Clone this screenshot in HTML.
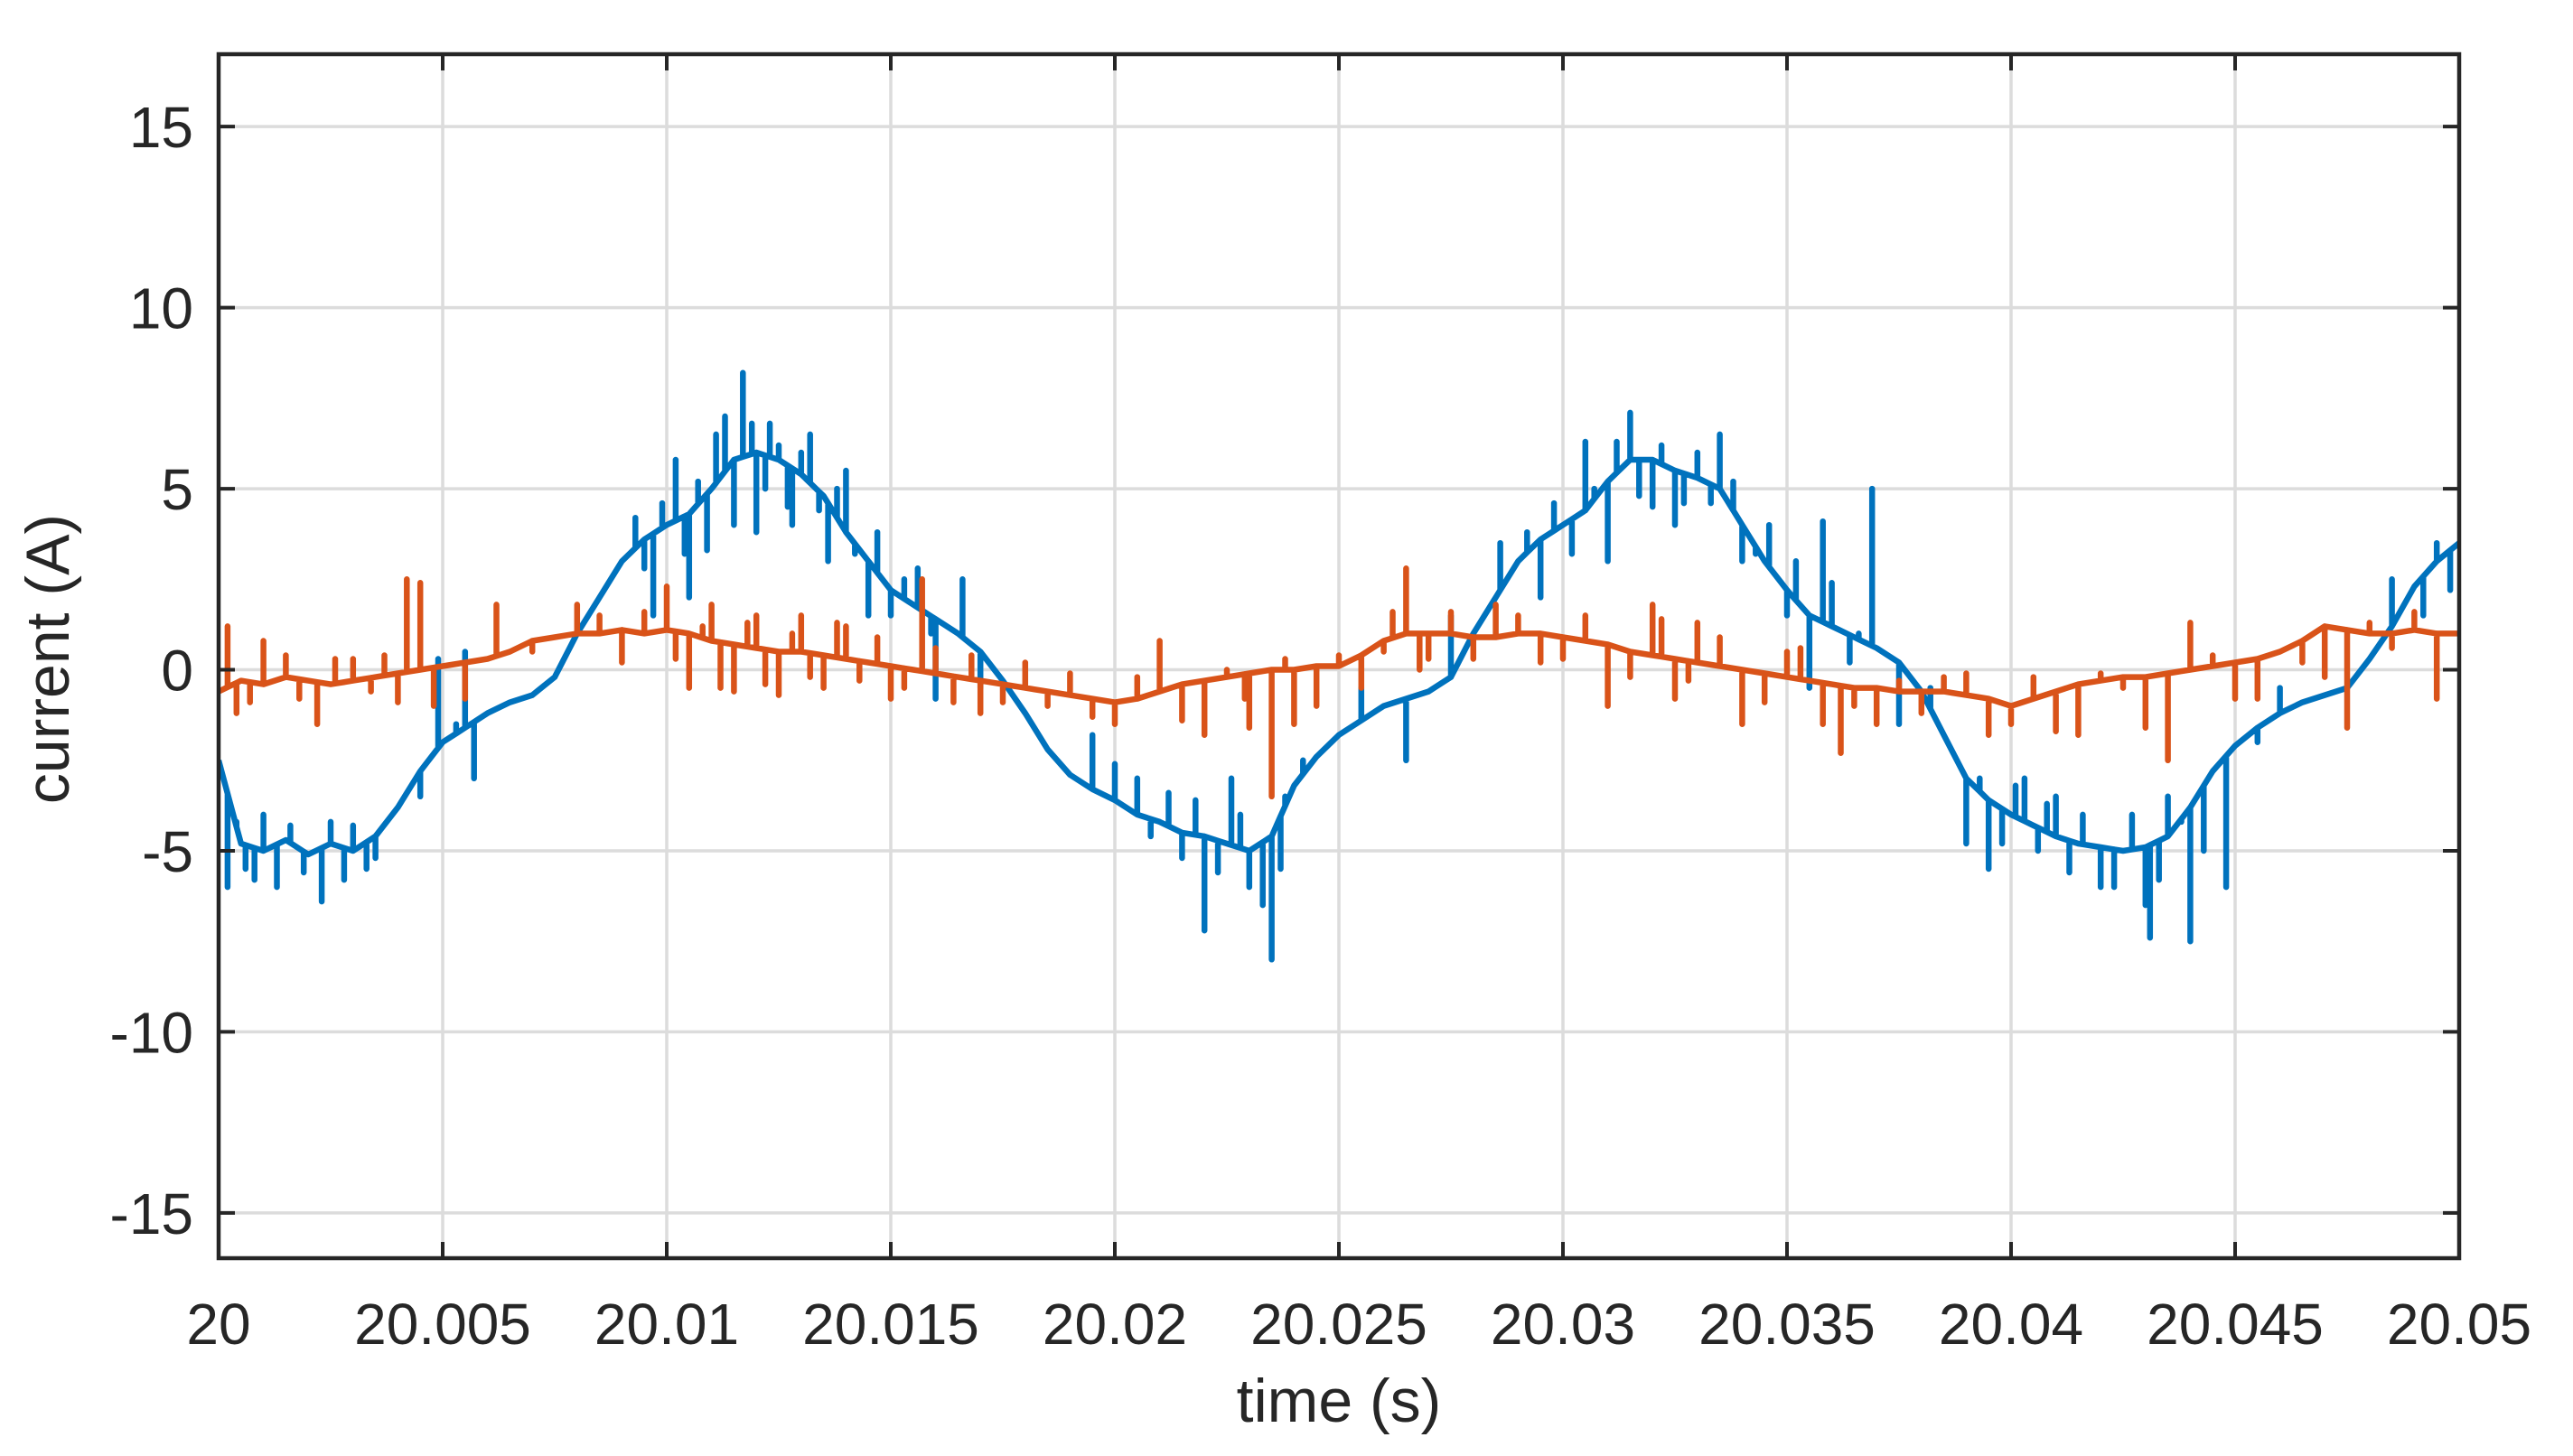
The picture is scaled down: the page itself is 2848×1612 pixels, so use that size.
<!DOCTYPE html>
<html><head><meta charset="utf-8"><style>
html,body{margin:0;padding:0;background:#fff}
svg{display:block}
text{font-family:"Liberation Sans",Arial,sans-serif;fill:#262626}
</style></head><body>
<svg id="chart" width="2848" height="1612" viewBox="0 0 2848 1612" xmlns="http://www.w3.org/2000/svg">
<g id="grid"></g>
<g id="series"></g>
<g id="axes"></g>
</svg>
<script>
const xTicks=[20,20.005,20.01,20.015,20.02,20.025,20.03,20.035,20.04,20.045,20.05];
const xTickLabels=["20","20.005","20.01","20.015","20.02","20.025","20.03","20.035","20.04","20.045","20.05"];
const yTicks=[15,10,5,0,-5,-10,-15];
const yTickLabels=["15","10","5","0","-5","-10","-15"];
const baseStep=0.0005;
const blueBase=[-2.5,-4.8,-5.0,-4.7,-5.1,-4.8,-5.0,-4.6,-3.8,-2.8,
-2.0,-1.6,-1.2,-0.9,-0.7,-0.2,1.0,2.0,3.0,3.6,
4.0,4.3,5.0,5.8,6.0,5.8,5.4,4.8,3.8,3.0,
2.2,1.8,1.4,1.0,0.5,-0.3,-1.2,-2.2,-2.9,-3.3,
-3.6,-4.0,-4.2,-4.5,-4.6,-4.8,-5.0,-4.6,-3.2,-2.4,
-1.8,-1.4,-1.0,-0.8,-0.6,-0.2,1.0,2.0,3.0,3.6,
4.0,4.4,5.2,5.8,5.8,5.5,5.3,5.0,4.0,3.0,
2.2,1.5,1.2,0.9,0.6,0.2,-0.6,-1.8,-3.0,-3.6,
-4.0,-4.3,-4.6,-4.8,-4.9,-5.0,-4.9,-4.6,-3.8,-2.8,
-2.1,-1.6,-1.2,-0.9,-0.7,-0.5,0.3,1.2,2.3,3.0,3.5];
const orangeBase=[-0.6,-0.3,-0.4,-0.2,-0.3,-0.4,-0.3,-0.2,-0.1,0.0,
0.1,0.2,0.3,0.5,0.8,0.9,1.0,1.0,1.1,1.0,
1.1,1.0,0.8,0.7,0.6,0.5,0.5,0.4,0.3,0.2,
0.1,0.0,-0.1,-0.2,-0.3,-0.4,-0.5,-0.6,-0.7,-0.8,
-0.9,-0.8,-0.6,-0.4,-0.3,-0.2,-0.1,0.0,0.0,0.1,
0.1,0.4,0.8,1.0,1.0,1.0,0.9,0.9,1.0,1.0,
0.9,0.8,0.7,0.5,0.4,0.3,0.2,0.1,0.0,-0.1,
-0.2,-0.3,-0.4,-0.5,-0.5,-0.6,-0.6,-0.6,-0.7,-0.8,
-1.0,-0.8,-0.6,-0.4,-0.3,-0.2,-0.2,-0.1,0.0,0.1,
0.2,0.3,0.5,0.8,1.2,1.1,1.0,1.0,1.1,1.0,1.0];
const blueSpikeMs=[0.2,0.6,1.0,1.3,2.3,2.8,3.3,4.5,4.9,5.3,5.5,5.7,9.0,9.7,10.2,10.5,11.3,11.7,12.0,12.3,12.8,13.2,13.6,14.0,14.5,15.3,16.0,16.6,17.0,19.5,20.5,22.0,22.6,23.3,23.5,23.8,25.5,26.5,27.5,28.6,29.5,30.5,31.0,31.5,32.0,32.5,33.5,34.3,35.5,35.8,36.4,36.9,37.5,38.2,39.0,39.5,40.3,41.0,42.0,43.0,43.1,43.5,44.0,44.8,45.5,46.0,47.5,48.5,49.2,49.5,49.8,
0.4,0.8,1.6,1.9,2.5,3.0,3.5,
9.3,9.5,9.9,10.4,10.7,10.9,11.1,11.5,11.9,12.2,12.5,12.7,13.0,13.4,13.8,14.2,14.7,15.0,15.6,15.9,
20.0,20.8,21.2,21.5,21.8,22.3,22.8,23.0,23.7,24.2,
29.2,29.8,30.2,30.7,31.2,31.7,32.2,32.7,33.0,33.3,33.8,34.0,34.6,35.0,35.2,36.0,36.6,
39.3,39.8,40.1,40.6,40.8,41.3,41.6,42.3,42.7,43.3,43.8,44.3];
const blueSpikeVal=[-6,-5.5,-4,-6,-6.4,-5.8,-5.5,-3.5,0.3,-1.5,0.5,-3,3,1.5,5.8,2,7,8.2,3.8,6.8,4,6.5,3,5.5,1.5,2.5,-0.8,2.5,-0.5,-1.8,-3,-7.2,-3,-6.5,-8.0,-3.5,-0.5,-2.5,1.5,3.5,2,6.3,3,7.1,4.5,4,6.5,3.2,-0.5,4.1,0.2,5,-1.5,-0.5,-4.8,-5.5,-3,-3.5,-6,-6.5,-7.4,-3.5,-7.5,-6,-2,-0.5,-0.5,2.5,1.5,3.5,2.2,
-4.2,-5.8,-4.3,-5.6,-4.2,-4.3,-5.2,
4.2,2.8,4.6,3.2,5.2,3.3,6.5,4.0,6.8,5.0,6.2,4.5,6.0,4.4,5.0,3.2,3.8,1.5,2.8,1.0,
-2.6,-4.6,-3.4,-5.2,-3.6,-5.6,-4.0,-6.0,-5.5,-2.5,
3.8,4.6,3.2,5.0,6.3,4.8,6.2,4.6,6.0,4.6,5.2,3.0,4.0,1.5,3.0,2.4,1.0,
-3.0,-4.8,-3.2,-5.0,-3.7,-5.6,-4.0,-6.0,-4.0,-5.8,-4.2,-5.0];
const orangeSpikeMs=[0.2,0.4,1.0,2.2,3.0,4.0,4.2,4.5,4.8,5.5,6.2,7.0,8.0,10.0,10.5,11.0,11.5,12.0,12.5,13.0,13.5,14.0,15.0,15.7,17.0,20.0,21.0,22.0,22.9,23.5,24.0,26.0,26.5,27.0,29.0,30.0,31.0,32.0,32.5,33.0,34.0,35.0,35.8,36.2,37.0,38.5,40.0,41.5,42.5,43.5,44.0,45.0,46.5,47.5,48.0,49.5,
0.7,1.5,1.8,2.6,3.4,3.7,
8.5,9.0,9.5,10.2,10.8,11.2,11.8,12.2,12.8,13.2,13.8,14.3,14.7,15.3,16.0,16.4,16.8,17.5,18.0,18.5,19.0,19.5,20.5,21.5,22.5,23.0,23.8,24.5,25.0,25.5,26.2,26.8,27.5,28.0,28.5,29.5,30.5,31.5,32.2,32.8,33.5,34.5,35.3,36.5,37.5,38.0,39.0,39.5,40.5,41.0,42.0,43.0,44.5,45.5,46.0,47.0,48.5,49.0];
const orangeSpikeVal=[1.2,-1.2,0.8,-1.5,0.3,-0.9,2.5,2.4,-1,-0.8,1.8,0.5,1.8,2.3,-0.5,1.8,-0.6,1.5,-0.7,1.5,-0.5,1.2,-0.8,2.5,-1.2,-1.5,0.8,-1.8,-0.8,-3.5,-1.5,0.5,2.8,0.3,1.5,0.3,-1,1.8,-0.8,1.3,-1.5,0.5,-1.5,-2.3,-1.5,-0.2,-1.5,-1.8,-0.5,-2.5,1.3,-0.8,0.2,-1.6,1.3,-0.8,
-0.9,0.4,-0.8,0.3,-0.6,0.4,
1.5,0.2,1.6,0.3,1.2,-0.5,1.3,-0.4,1.0,-0.2,1.3,-0.3,0.9,-0.5,0.6,-0.9,0.4,-0.9,0.2,-1.0,-0.1,-1.3,-0.2,-1.4,0.0,-1.6,0.3,-1.0,0.4,-0.5,1.6,0.0,1.6,0.3,1.8,0.2,1.5,-0.2,1.4,-0.3,0.9,-0.9,0.6,-1.0,-0.3,-1.2,-0.1,-1.8,-0.2,-1.7,-0.1,-1.6,0.4,-0.8,0.5,-0.2,0.6,1.6];

const L=242,R=2722,T=60,B=1393,X0=20,X1=20.05,Y0=-16.25,Y1=17;
const sx=t=>L+(t-X0)/(X1-X0)*(R-L);
const sy=v=>B-(v-Y0)/(Y1-Y0)*(B-T);
const NS="http://www.w3.org/2000/svg";
function mk(tag,attrs,parent){const e=document.createElementNS(NS,tag);for(const k in attrs)e.setAttribute(k,attrs[k]);parent.appendChild(e);return e;}
const grid=document.getElementById('grid'),axes=document.getElementById('axes'),series=document.getElementById('series');
xTicks.forEach((t,i)=>{
  const g=mk('line',{x1:sx(t),x2:sx(t),y1:T,y2:B,stroke:'#dcdcdc','stroke-width':3.5},grid);
  
  
  [[B,B-18],[T,T+18]].forEach(p=>{const tk=mk('line',{x1:sx(t),x2:sx(t),y1:p[0],y2:p[1],stroke:'#262626','stroke-width':4},axes);
    
    });
  const tx=mk('text',{x:sx(t),y:1488,'font-size':64,'text-anchor':'middle'},axes);
  tx.textContent=xTickLabels[i];
  
  
});
yTicks.forEach((v,i)=>{
  const g=mk('line',{x1:L,x2:R,y1:sy(v),y2:sy(v),stroke:'#dcdcdc','stroke-width':3.5},grid);
  
  
  [[L,L+18],[R,R-18]].forEach(p=>{const tk=mk('line',{x1:p[0],x2:p[1],y1:sy(v),y2:sy(v),stroke:'#262626','stroke-width':4},axes);
    
    });
  const tx=mk('text',{x:L-28,y:sy(v)+23,'font-size':64,'text-anchor':'end'},axes);
  tx.textContent=yTickLabels[i];
  
  
});
const box=mk('rect',{x:L,y:T,width:R-L,height:B-T,fill:'none',stroke:'#262626','stroke-width':4.5},axes);


const xl=mk('text',{x:(L+R)/2,y:1574,'font-size':68,'text-anchor':'middle'},axes);
xl.textContent='time (s)';


const yl=mk('text',{x:0,y:0,'font-size':68,'text-anchor':'middle',transform:'translate(76,'+sy(0.3)+') rotate(-90)'},axes);
yl.textContent='current (A)';



function baseAt(arr,t){const f=(t-X0)/baseStep;let i=Math.floor(f);if(i>=arr.length-1)return arr[arr.length-1];const a=f-i;return arr[i]*(1-a)+arr[i+1]*a;}
function build(base,ms,vals){
  const pts=base.map((v,i)=>({t:X0+i*baseStep,v:v,o:0}));
  ms.forEach((m,k)=>{const t=X0+m/1000;const b=baseAt(base,t);
    pts.push({t:t,v:b,o:-1});pts.push({t:t,v:vals[k],o:0});pts.push({t:t,v:b,o:1});});
  pts.sort((a,b)=>a.t-b.t||a.o-b.o);
  return pts.map(p=>sx(p.t).toFixed(1)+','+sy(p.v).toFixed(1)).join(' ');
}
const clip=mk('clipPath',{id:'pc'},series);mk('rect',{x:L,y:T,width:R-L,height:B-T},clip);
const bl=mk('polyline',{points:build(blueBase,blueSpikeMs,blueSpikeVal),fill:'none',stroke:'#0072BD','stroke-width':6.5,'stroke-linejoin':'round','clip-path':'url(#pc)'},series);


const ol=mk('polyline',{points:build(orangeBase,orangeSpikeMs,orangeSpikeVal),fill:'none',stroke:'#D95319','stroke-width':6.5,'stroke-linejoin':'round','clip-path':'url(#pc)'},series);


</script>
</body></html>
